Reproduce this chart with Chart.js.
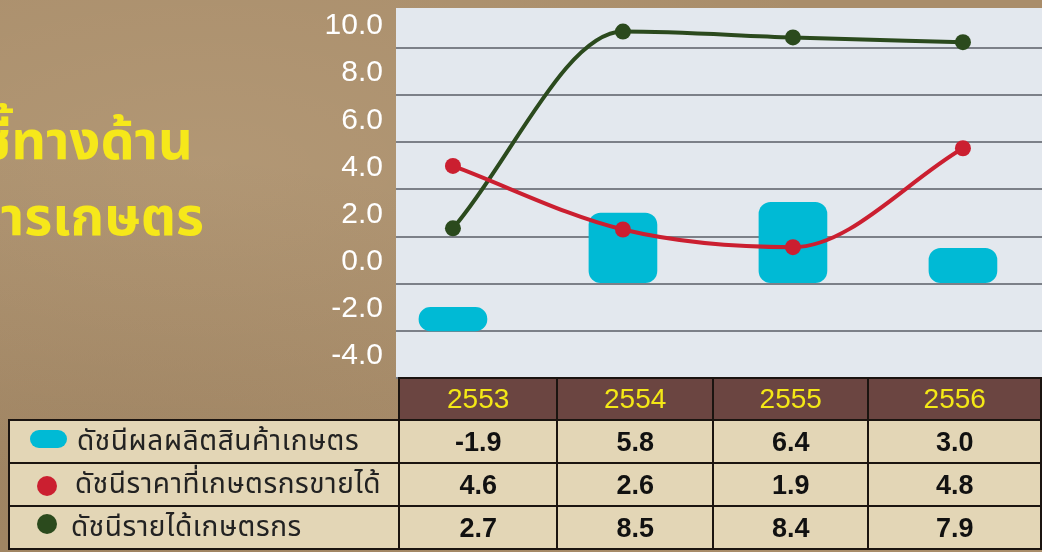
<!DOCTYPE html>
<html>
<head>
<meta charset="utf-8">
<script src="https://cdn.jsdelivr.net/npm/chart.js@4.4.1/dist/chart.umd.min.js"></script>
<style>
    html, body {
        margin: 0;
        padding: 0;
        width: 1042px;
        height: 552px;
        overflow: hidden;
    }
    body {
        position: relative;
        background-color: #a98d6a;
        background-image:
            radial-gradient(ellipse at 20% 30%, rgba(255, 240, 210, 0.10), rgba(0, 0, 0, 0) 60%),
            radial-gradient(ellipse at 10% 90%, rgba(60, 40, 20, 0.10), rgba(0, 0, 0, 0) 50%);
        font-family: "Liberation Sans", "Noto Sans", sans-serif;
    }
    #chart {
        position: absolute;
        left: 0;
        top: 0;
    }
    .title {
        position: absolute;
        right: calc(1042px - var(--r));
        color: #f6e81a;
        font-weight: bold;
        font-size: 54px;
        white-space: nowrap;
        font-family: "Noto Sans Thai", "Noto Sans Thai UI", "Noto Sans", sans-serif;
        line-height: 1;
    }
    #dataTable {
        position: absolute;
        left: 8px;
        top: 377px;
        border-collapse: collapse;
        table-layout: fixed;
    }
    #dataTable td, #dataTable th {
        border: 2px solid #1b1410;
        padding: 0;
        text-align: center;
        line-height: 36px;
    }
    #dataTable th {
        background: #6b4541;
        color: #f4e816;
        font-weight: normal;
        font-size: 28px;
        height: 40px;
    }
    #dataTable th.blank {
        background: transparent;
        border: none;
    }
    #dataTable td {
        background: #e3d6b6;
        color: #111;
        font-weight: bold;
        font-size: 27px;
        height: 41px;
    }
    #dataTable td.label {
        text-align: left;
        font-weight: normal;
        font-size: 28px;
        letter-spacing: 0.6px;
        color: #222;
        font-family: "Noto Sans Thai", "Noto Sans Thai UI", "Noto Sans", sans-serif;
        white-space: nowrap;
    }
    .marker {
        display: inline-block;
        vertical-align: middle;
        margin-right: 10px;
        position: relative;
        top: -3px;
    }
</style>
</head>
<body>
<div class="title" style="--r: 193px; top: 116px;">ชี้ทางด้าน</div>
<div class="title" style="--r: 204px; top: 192px;">การเกษตร</div>
<canvas id="chart" width="1042" height="380"></canvas>
<table id="dataTable"></table>
<script>
// years (Thai Buddhist era)
const years = ['2553', '2554', '2555', '2556'];

const seriesNames = [
    'ดัชนีผลผลิตสินค้าเกษตร',
    'ดัชนีราคาที่เกษตรกรขายได้',
    'ดัชนีรายได้เกษตรกร'
];
const seriesColors = ['#00bad5', '#cb1f30', '#2b4a1d'];

// values printed in the table
const outputIndex = [-1.9, 5.8, 6.4, 3.0];
const priceIndex = [4.6, 2.6, 1.9, 4.8];
const incomeIndex = [2.7, 8.5, 8.4, 7.9];

// heights as they are drawn in the graphic (the artwork is not to scale with the table)
const outputBars = [[-1.0, -2.0], [0, 3.0], [0, 3.45], [0, 1.5]];
const pricePlot = [5.0, 2.3, 1.55, 5.75];
const incomePlot = [2.35, 10.7, 10.45, 10.25];

const yTicks = [-4, -2, 0, 2, 4, 6, 8, 10];

// ---- table ----
function buildTable() {
    const table = document.getElementById('dataTable');
    const colWidths = [390, 159, 156, 156, 173];
    let html = '<colgroup>' + colWidths.map(w => `<col style="width:${w}px">`).join('') + '</colgroup>';
    html += '<tr><th class="blank"></th>' + years.map(y => `<th>${y}</th>`).join('') + '</tr>';

    const rows = [outputIndex, priceIndex, incomeIndex];
    const markers = [
        `<span class="marker" style="width:37px;height:18px;border-radius:9px;background:${seriesColors[0]};margin-left:20px;"></span>`,
        `<span class="marker" style="width:20px;height:20px;border-radius:50%;background:${seriesColors[1]};margin-left:27px;margin-right:18px;top:1px;"></span>`,
        `<span class="marker" style="width:20px;height:20px;border-radius:50%;background:${seriesColors[2]};margin-left:27px;margin-right:14px;top:-4px;"></span>`
    ];
    rows.forEach((vals, i) => {
        html += `<tr><td class="label">${markers[i]}${seriesNames[i]}</td>`;
        html += vals.map(v => `<td>${v.toFixed(1)}</td>`).join('');
        html += '</tr>';
    });
    table.innerHTML = html;
}

// ---- chart ----
const plotBackground = {
    id: 'plotBackground',
    beforeDraw(chart) {
        const { ctx, chartArea } = chart;
        ctx.save();
        ctx.fillStyle = '#e3e8ee';
        ctx.fillRect(chartArea.left, chartArea.top, chartArea.right - chartArea.left, chartArea.bottom - chartArea.top);
        ctx.restore();
    }
};

function toPoints(vals) {
    return vals.map((v, i) => ({ x: i, y: v }));
}

function renderChart() {
    const ctx = document.getElementById('chart').getContext('2d');

    new Chart(ctx, {
        data: {
            datasets: [
                {
                    type: 'line',
                    label: seriesNames[1],
                    data: toPoints(pricePlot),
                    borderColor: seriesColors[1],
                    backgroundColor: seriesColors[1],
                    borderWidth: 4,
                    pointRadius: 8,
                    pointBorderWidth: 0,
                    cubicInterpolationMode: 'monotone',
                    order: 1
                },
                {
                    type: 'line',
                    label: seriesNames[2],
                    data: toPoints(incomePlot),
                    borderColor: seriesColors[2],
                    backgroundColor: seriesColors[2],
                    borderWidth: 4,
                    pointRadius: 8,
                    pointBorderWidth: 0,
                    cubicInterpolationMode: 'monotone',
                    order: 2
                },
                {
                    type: 'bar',
                    label: seriesNames[0],
                    data: toPoints(outputBars),
                    backgroundColor: seriesColors[0],
                    borderRadius: 12,
                    borderSkipped: false,
                    barThickness: 68,
                    order: 3
                }
            ]
        },
        options: {
            responsive: false,
            animation: false,
            devicePixelRatio: 1,
            layout: {
                autoPadding: false,
                padding: { top: 8, bottom: 2, left: 0, right: 0 }
            },
            plugins: {
                legend: { display: false },
                tooltip: { enabled: false }
            },
            scales: {
                x: {
                    type: 'linear',
                    display: false,
                    offset: false,
                    min: -0.335,
                    max: 3.465
                },
                y: {
                    min: -4,
                    max: 11.7,
                    afterBuildTicks: scale => {
                        scale.ticks = yTicks.map(v => ({ value: v }));
                    },
                    afterFit: scale => {
                        scale.width = 396;
                        scale.paddingTop = 0;
                        scale.paddingBottom = 0;
                    },
                    border: { display: false },
                    grid: {
                        color: '#7c8088',
                        lineWidth: 2,
                        drawTicks: false
                    },
                    ticks: {
                        color: '#ffffff',
                        padding: 13,
                        labelOffset: -22,
                        font: { family: 'Liberation Sans', size: 30 },
                        callback: v => v.toFixed(1)
                    }
                }
            }
        },
        plugins: [plotBackground]
    });
}

buildTable();
renderChart();
</script>
</body>
</html>
